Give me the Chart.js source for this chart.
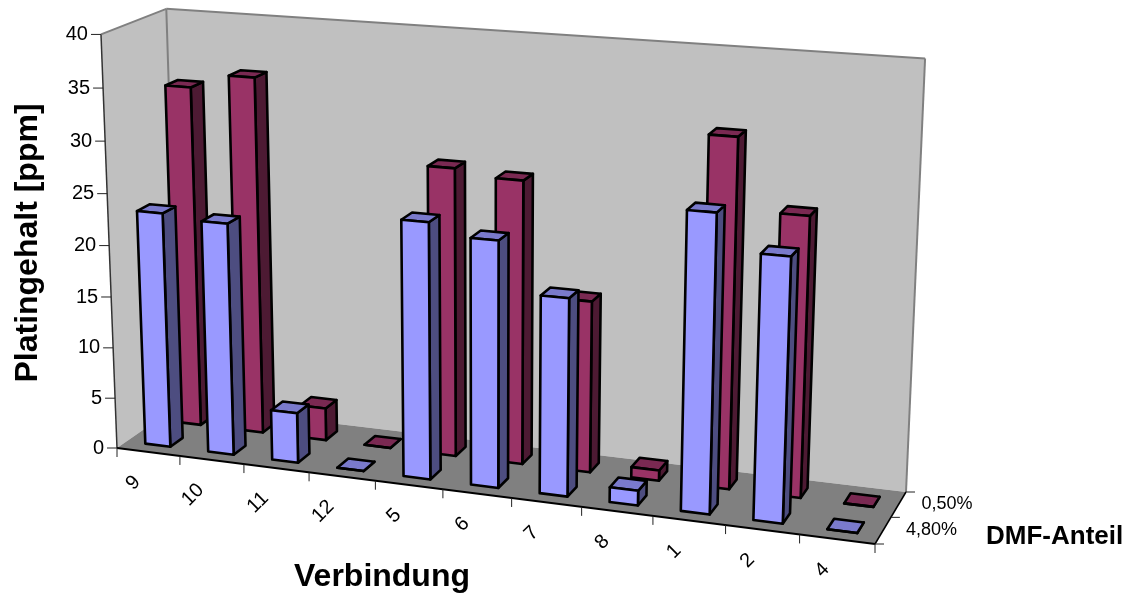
<!DOCTYPE html>
<html>
<head>
<meta charset="utf-8">
<style>
  html, body { margin: 0; background: #fff; }
  canvas { display: block; }
</style>
<script src="https://cdn.jsdelivr.net/npm/chart.js@4"></script>
</head>
<body>
<canvas id="chart" width="1127" height="595"></canvas>
<script>
/* =================================================
  Data
==================================================== */

const categories = ["9", "10", "11", "12", "5", "6", "7", "8", "1", "2", "4"];
const seriesFront = [23, 22.6, 4.9, 0, 24.5, 23.4, 18.7, 1.4, 27.7, 24.4, 0];
const seriesBack = [33.6, 35, 3.2, 0, 27.9, 27.3, 16.5, 1, 32.9, 26.3, 0];
const depthLabels = ["4,80%", "0,50%"];

/* =================================================
  Projection: floor corners on the page plus the vertical direction
==================================================== */

const floorQuad = [[117, 448], [875, 544], [906, 492], [179, 405]];
const rise = [-20.19, -415, -0.04145];

function floorMap(q) {
  const [p0, p1, p2, p3] = q;
  const sx = p0[0] - p1[0] + p2[0] - p3[0];
  const sy = p0[1] - p1[1] + p2[1] - p3[1];
  const dx1 = p1[0] - p2[0], dx2 = p3[0] - p2[0];
  const dy1 = p1[1] - p2[1], dy2 = p3[1] - p2[1];
  const den = dx1 * dy2 - dx2 * dy1;
  const g = (sx * dy2 - dx2 * sy) / den;
  const h = (dx1 * sy - sx * dy1) / den;
  return (u, v) => [
    (p1[0] - p0[0] + g * p1[0]) * u + (p3[0] - p0[0] + h * p3[0]) * v + p0[0],
    (p1[1] - p0[1] + g * p1[1]) * u + (p3[1] - p0[1] + h * p3[1]) * v + p0[1],
    g * u + h * v + 1
  ];
}

const floorH = floorMap(floorQuad);

// u along categories, v into depth, t up the value axis (all 0..1)
function project(u, v, t) {
  const f = floorH(u, v);
  const w = f[2] + rise[2] * t;
  return [(f[0] + rise[0] * t) / w, (f[1] + rise[1] * t) / w];
}

function poly(ctx, pts, fill, stroke, width) {
  ctx.beginPath();
  pts.forEach((p, i) => i ? ctx.lineTo(p[0], p[1]) : ctx.moveTo(p[0], p[1]));
  ctx.closePath();
  if (fill) {
    ctx.fillStyle = fill;
    ctx.fill();
  }
  if (stroke) {
    ctx.strokeStyle = stroke;
    ctx.lineWidth = width;
    ctx.stroke();
  }
}

function line(ctx, a, b, color, width) {
  ctx.beginPath();
  ctx.moveTo(a[0], a[1]);
  ctx.lineTo(b[0], b[1]);
  ctx.strokeStyle = color;
  ctx.lineWidth = width;
  ctx.stroke();
}

function label(ctx, text, x, y, font, align, angle) {
  ctx.save();
  ctx.translate(x, y);
  ctx.rotate(angle || 0);
  ctx.font = font;
  ctx.fillStyle = '#000';
  ctx.textAlign = align;
  ctx.textBaseline = 'middle';
  ctx.fillText(text, 0, 0);
  ctx.restore();
}

/* =================================================
  Walls, floor and axes
==================================================== */

const tickFont = '20px "Liberation Sans"';
const depthFont = '18px "Liberation Sans"';
const titleFont = 'bold 32px "Liberation Sans"';
const outline = 2.6;

const frame3d = {
  id: 'frame3d',
  beforeDatasetsDraw(chart) {
    const ctx = chart.ctx;
    const xs = chart.scales.x;
    const ys = chart.scales.y;
    ctx.save();
    ctx.lineJoin = 'round';

    poly(ctx, [project(0, 0, 0), project(0, 1, 0), project(0, 1, 1), project(0, 0, 1)], '#c0c0c0');
    poly(ctx, [project(0, 1, 0), project(1, 1, 0), project(1, 1, 1), project(0, 1, 1)], '#c0c0c0');
    poly(ctx, [project(0, 0, 0), project(1, 0, 0), project(1, 1, 0), project(0, 1, 0)], '#808080');

    // wall outlines
    line(ctx, project(0, 0, 1), project(0, 1, 1), '#808080', 2);
    line(ctx, project(0, 1, 1), project(1, 1, 1), '#808080', 2);
    line(ctx, project(0, 1, 1), project(0, 1, 0), '#808080', 2);
    line(ctx, project(1, 1, 1), project(1, 1, 0), '#808080', 2);

    // value axis
    line(ctx, project(0, 0, 0), project(0, 0, 1), '#333', 1.5);
    ys.ticks.forEach(tick => {
      const t = (ys.bottom - ys.getPixelForValue(tick.value)) / (ys.bottom - ys.top);
      const p = project(0, 0, t);
      line(ctx, [p[0] - 10, p[1]], p, '#222', 1);
      label(ctx, tick.label, p[0] - 13, p[1], tickFont, 'right');
    });

    // category axis
    line(ctx, project(0, 0, 0), project(1, 0, 0), '#000', 2);
    for (let i = 0; i <= categories.length; i++) {
      const p = project(i / categories.length, 0, 0);
      line(ctx, p, [p[0], p[1] + 9], '#222', 1);
    }
    categories.forEach((name, i) => {
      const u = (xs.getPixelForValue(i) - chart.chartArea.left) / chart.chartArea.width;
      const p = project(u, 0, 0);
      label(ctx, name, p[0] - 11, p[1] + 27, tickFont, 'right', -Math.PI / 4);
    });

    // depth axis
    line(ctx, project(1, 0, 0), project(1, 1, 0), '#000', 1.5);
    for (let d = 0; d <= depthLabels.length; d++) {
      const p = project(1, d / depthLabels.length, 0);
      line(ctx, p, [p[0] + 9, p[1]], '#222', 1);
    }
    depthLabels.forEach((name, d) => {
      const p = project(1, (d + 0.5) / depthLabels.length, 0);
      label(ctx, name, p[0] + 23, p[1], depthFont, 'left');
    });

    label(ctx, ys.options.title.text, 28, 243, titleFont, 'center', -Math.PI / 2);
    label(ctx, xs.options.title.text, 382, 577, titleFont, 'center');
    label(ctx, 'DMF-Anteil', 986, 537, 'bold 26px "Liberation Sans"', 'left');
    ctx.restore();
  },

  // each dataset is one row in depth; the library's bar elements give x, top and width
  afterDatasetDraw(chart, args) {
    const ctx = chart.ctx;
    const area = chart.chartArea;
    const ds = chart.data.datasets[args.index];
    const row = args.index;
    const v0 = (row + 0.3) / depthLabels.length;
    const v1 = (row + 0.7) / depthLabels.length;
    ctx.save();
    ctx.lineJoin = 'round';
    args.meta.data.forEach(bar => {
      const u0 = (bar.x - bar.width / 2 - area.left) / area.width;
      const u1 = (bar.x + bar.width / 2 - area.left) / area.width;
      const t = (bar.base - bar.y) / (area.bottom - area.top);
      poly(ctx, [project(u1, v0, 0), project(u1, v1, 0), project(u1, v1, t), project(u1, v0, t)], ds.sideColor, '#000', outline);
      poly(ctx, [project(u0, v0, t), project(u1, v0, t), project(u1, v1, t), project(u0, v1, t)], ds.topColor, '#000', outline);
      poly(ctx, [project(u0, v0, 0), project(u1, v0, 0), project(u1, v0, t), project(u0, v0, t)], ds.frontColor, '#000', outline);
    });
    ctx.restore();
  }
};

/* =================================================
  Chart
==================================================== */

new Chart(document.getElementById('chart'), {
  type: 'bar',
  data: {
    labels: categories,
    datasets: [{
      label: depthLabels[0],
      data: seriesFront,
      backgroundColor: 'transparent',
      frontColor: '#9999ff',
      sideColor: '#4d4d80',
      topColor: '#7a7acc'
    }, {
      label: depthLabels[1],
      data: seriesBack,
      backgroundColor: 'transparent',
      frontColor: '#993366',
      sideColor: '#4d1a33',
      topColor: '#7a2952'
    }]
  },
  options: {
    responsive: false,
    animation: false,
    layout: { padding: 40 },
    datasets: { bar: { grouped: false, categoryPercentage: 1, barPercentage: 0.4 } },
    scales: {
      x: { display: false, title: { text: 'Verbindung' } },
      y: {
        display: false,
        min: 0,
        max: 40,
        ticks: { stepSize: 5 },
        title: { text: 'Platingehalt [ppm]' }
      }
    },
    plugins: {
      legend: { display: false },
      tooltip: { enabled: false }
    }
  },
  plugins: [frame3d]
});
</script>
</body>
</html>
